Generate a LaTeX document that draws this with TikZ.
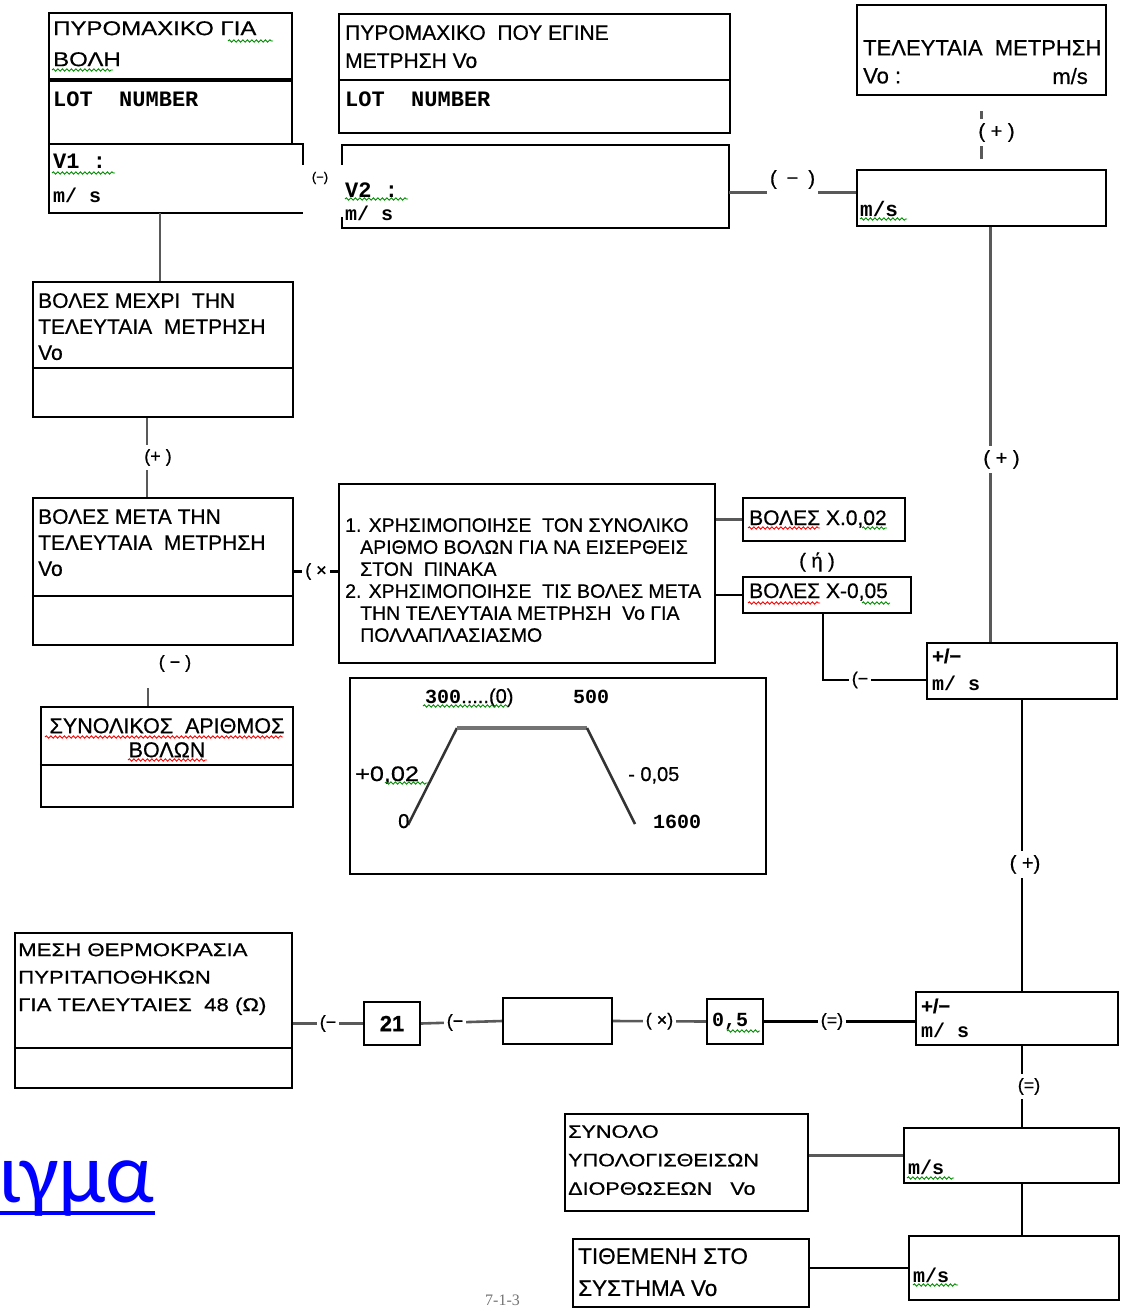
\documentclass[tikz,border=0pt]{standalone}
\usepackage{fontspec}
\setmainfont{Liberation Sans}[FakeBold=0.6]
\newfontfamily\grwide{Liberation Sans}[FakeStretch=1.2, FakeBold=0.6]
\newfontfamily\courfont{Liberation Mono}
\newfontfamily\califont{Carlito}
\newfontfamily\serffont{Liberation Serif}
\usetikzlibrary{fit, decorations.pathmorphing}
\newcommand\setfs[2]{\fontsize{#1}{#2}\selectfont}

\tikzset{
  box/.style={draw, line width=2.2pt, inner sep=0pt},
  openbox/.style={inner sep=0pt},
  gtxt/.style={anchor=north west, inner sep=0pt, align=left, font=\setfs{21}{26}},
  ltxt/.style={anchor=base west, inner sep=0pt, font=\setfs{20}{22}},
  ctxt/.style={anchor=base west, inner sep=0pt, font=\courfont\bfseries\setfs{20}{24}},
  wire/.style={draw=black!65, line width=2.6pt},
  sgn/.style={fill=white, inner xsep=3pt, inner ysep=4pt, font=\setfs{18}{20}},
  squig/.style={draw=green!55!black, line width=0.9pt, decorate,
    decoration={snake, amplitude=1.2pt, segment length=4.5pt}},
  redsquig/.style={squig, draw=red}
}

\begin{document}
\begin{tikzpicture}[x=1pt, y=-1pt]
\useasboundingbox (0,0) rectangle (1124,1311);

% ammunition for firing
\node[box, fit={(49,13) (292,79)}] (ammoA) {};
\node[box, fit={(49,81) (292,144)}] (lotA) {};
\node[openbox, fit={(49,144) (303,213)}] (vA) {};
\draw[line width=2.2pt] ([yshift=-21pt]vA.north east) -- (vA.north east) -- (vA.north west) -- (vA.south west) -- (vA.south east);
\node[gtxt, font=\grwide\setfs{20}{31}] (ammoAt) at (53,21) {ΠΥΡΟΜΑΧΙΚΟ ΓΙΑ\\ΒΟΛΗ};
\node[ctxt, font=\courfont\bfseries\setfs{22}{24}] (lotAt) at (53,107) {LOT~~NUMBER};
\node[ctxt, font=\courfont\bfseries\setfs{22}{24}] (vAt) at (53,168) {V1~:};
\node[ctxt] (vAu) at (53,202) {m/ s};
\node[inner sep=0pt, font=\setfs{13}{15}] (minusAB) at (320,178) {(−)};

% ammunition measured
\node[box, fit={(339,14) (730,133)}] (ammoB) {};
\draw[line width=2.2pt] ([yshift=-67pt]ammoB.north west) -- ([yshift=-67pt]ammoB.north east);
\node[gtxt, font=\setfs{21}{28}] (ammoBt) at (345,25) {ΠΥΡΟΜΑΧΙΚΟ~ ΠΟΥ ΕΓΙΝΕ\\ΜΕΤΡΗΣΗ Vo};
\node[ctxt, font=\courfont\bfseries\setfs{22}{24}] (lotBt) at (345,107) {LOT~~NUMBER};
\node[openbox, fit={(342,145) (729,228)}] (vB) {};
\draw[line width=2.2pt] ([yshift=-20pt]vB.north west) -- (vB.north west) -- (vB.north east) -- (vB.south east) -- (vB.south west) -- ([yshift=11pt]vB.south west);
\node[ctxt, font=\courfont\bfseries\setfs{22}{24}] (vBt) at (345,197) {V2~:};
\node[ctxt] (vBu) at (345,220) {m/ s};

% last measurement
\node[box, fit={(857,5) (1106,95)}] (last) {};
\node[gtxt, font=\setfs{22}{28}] (lastt) at (863,40) {ΤΕΛΕΥΤΑΙΑ ~ΜΕΤΡΗΣΗ\\Vo :};
\node[anchor=base east, inner sep=0pt, font=\setfs{22}{28}] (lastu) at (1088,84) {m/s};
\node[box, fit={(857,170) (1106,226)}] (sumD) {};
\node[ctxt, font=\courfont\bfseries\setfs{21}{24}] (sumDt) at (860,216) {m/s};

% rounds
\node[box, fit={(33,282) (293,417)}] (upto) {};
\draw[line width=2.2pt] ([yshift=-87pt]upto.north west) -- ([yshift=-87pt]upto.north east);
\node[gtxt] (uptot) at (38,293) {ΒΟΛΕΣ ΜΕΧΡΙ ~ΤΗΝ\\ΤΕΛΕΥΤΑΙΑ ~ΜΕΤΡΗΣΗ\\Vo};
\node[box, fit={(33,498) (293,645)}] (after) {};
\draw[line width=2.2pt] ([yshift=-99pt]after.north west) -- ([yshift=-99pt]after.north east);
\node[gtxt] (aftert) at (38,509) {ΒΟΛΕΣ ΜΕΤΑ ΤΗΝ\\ΤΕΛΕΥΤΑΙΑ ~ΜΕΤΡΗΣΗ\\Vo};
\node[box, fit={(41,707) (293,807)}] (total) {};
\draw[line width=2.2pt] ([yshift=-59pt]total.north west) -- ([yshift=-59pt]total.north east);
\node[anchor=north, inner sep=0pt, align=center, font=\setfs{21.5}{24}] (totalt) at (167,718) {ΣΥΝΟΛΙΚΟΣ ~ΑΡΙΘΜΟΣ\\ΒΟΛΩΝ};

% instructions and table
\node[box, fit={(339,484) (715,663)}] (instr) {};
\node[gtxt, font=\setfs{19.5}{22}] (instrt) at (345,518) {1. ΧΡΗΣΙΜΟΠΟΙΗΣΕ ~ΤΟΝ ΣΥΝΟΛΙΚΟ\\\hspace*{15pt}ΑΡΙΘΜΟ ΒΟΛΩΝ ΓΙΑ ΝΑ ΕΙΣΕΡΘΕΙΣ\\\hspace*{15pt}ΣΤΟΝ ~ΠΙΝΑΚΑ\\2. ΧΡΗΣΙΜΟΠΟΙΗΣΕ ~ΤΙΣ ΒΟΛΕΣ ΜΕΤΑ\\\hspace*{15pt}ΤΗΝ ΤΕΛΕΥΤΑΙΑ ΜΕΤΡΗΣΗ ~Vo ΓΙΑ\\\hspace*{15pt}ΠΟΛΛΑΠΛΑΣΙΑΣΜΟ};
\node[box, fit={(743,498) (905,541)}] (bX02) {};
\node[ltxt, font=\setfs{21}{24}] (bX02t) at (749,525) {ΒΟΛΕΣ Χ.0,02};
\node[box, fit={(743,577) (911,613)}] (bX05) {};
\node[ltxt, font=\setfs{21}{24}] (bX05t) at (749,598) {ΒΟΛΕΣ Χ-0,05};
\node[inner sep=0pt, font=\setfs{20}{22}] (orlbl) at (817,562) {( ή )};
\node[box, fit={(927,643) (1117,699)}] (pm1) {};
\node[ltxt, font=\bfseries\setfs{20}{22}] (pm1t) at (932,663) {+/−};
\node[ctxt] (pm1u) at (932,690) {m/ s};

% chart
\node[box, fit={(350,678) (766,874)}] (chart) {};
\draw[line width=2.5pt, black!80] (408,825) -- (457,728);
\draw[line width=4.5pt, black!55] (457,728) -- (587,728);
\draw[line width=2.5pt, black!80] (587,728) -- (635,824);
\node[ltxt] (c300) at (425,703) {{\courfont\bfseries 300}.....(0)};
\node[ctxt] (c500) at (573,703) {500};
\node[ltxt, font=\grwide\setfs{21}{22}] (cup) at (355,781) {+0,02};
\node[ltxt] (cdown) at (628,781) {- 0,05};
\node[ltxt] (czero) at (398,828) {0};
\node[ctxt] (c1600) at (653,828) {1600};

% temperature chain
\node[box, fit={(15,933) (292,1088)}] (temp) {};
\draw[line width=2.2pt] ([yshift=-116pt]temp.north west) -- ([yshift=-116pt]temp.north east);
\node[gtxt, font=\grwide\setfs{18.5}{27.5}] (tempt) at (18,943) {ΜΕΣΗ ΘΕΡΜΟΚΡΑΣΙΑ\\ΠΥΡΙΤΑΠΟΘΗΚΩΝ\\ΓΙΑ ΤΕΛΕΥΤΑΙΕΣ ~48 (Ω)};
\node[box, fit={(364,1002) (420,1045)}] (b21) {};
\node[inner sep=0pt, font=\bfseries\setfs{22}{24}] (b21t) at (b21.center) {21};
\node[box, fit={(503,998) (612,1044)}] (bN) {};
\node[box, fit={(707,999) (763,1044)}] (bO) {};
\node[ctxt] (bOt) at (712,1026) {0,5};
\node[box, fit={(916,992) (1118,1045)}] (pm2) {};
\node[ltxt, font=\bfseries\setfs{20}{22}] (pm2t) at (921,1013) {+/−};
\node[ctxt] (pm2u) at (921,1037) {m/ s};

% totals
\node[box, fit={(565,1114) (808,1211)}] (corr) {};
\node[gtxt, font=\grwide\setfs{18}{28.5}] (corrt) at (568,1125) {ΣΥΝΟΛΟ\\ΥΠΟΛΟΓΙΣΘΕΙΣΩΝ\\ΔΙΟΡΘΩΣΕΩΝ ~~Vo};
\node[box, fit={(904,1128) (1119,1183)}] (sumQ) {};
\node[ctxt] (sumQt) at (908,1174) {m/s};
\node[box, fit={(573,1239) (809,1307)}] (set) {};
\node[gtxt, font=\setfs{22.5}{32}] (sett) at (578,1248) {ΤΙΘΕΜΕΝΗ ΣΤΟ\\ΣΥΣΤΗΜΑ Vo};
\node[box, fit={(909,1236) (1119,1300)}] (sumS) {};
\node[ctxt] (sumSt) at (913,1282) {m/s};

% connectors
\draw[wire] ([xshift=-3pt]upto.north) -- ([xshift=-3pt]upto.north |- vA.south);
\draw[wire] ([xshift=-16pt]upto.south) -- node[sgn, xshift=11pt] {(+ )} ([xshift=-16pt]upto.south |- after.north);
\draw[wire, shorten <=42pt] ([xshift=-19pt]total.north |- after.south) -- node[inner sep=0pt, pos=0.29, xshift=27pt, font=\setfs{18}{20}] {( − )} ([xshift=-19pt]total.north);
\draw[wire, black] (after.east) -- node[sgn, pos=0.5] {( ×} (after.east -| instr.west);
\draw[wire] (instr.east |- bX02.west) -- (bX02.west);
\draw[wire, black] (instr.east |- bX05.west) -- (bX05.west);
\draw[wire, black] ([xshift=-4pt]bX05.south) |- node[sgn, pos=0.68] {(−} ([yshift=-9pt]pm1.west);
\draw[wire] ([yshift=-6pt]vB.east) -- node[sgn, inner ysep=10pt, yshift=13pt, font=\setfs{20}{22}] {(\hspace{10pt}−\hspace{10pt})} ([yshift=-6pt]vB.east -| sumD.west);
\draw[wire, shorten <=15pt, shorten >=10pt] (last.south) -- node[sgn, xshift=15pt, font=\setfs{20}{22}] {( + )} (sumD.north);
\draw[wire] ([xshift=9pt]sumD.south) -- node[sgn, pos=0.56, xshift=11pt, font=\setfs{20}{22}] {( + )} ([xshift=9pt]sumD.south |- pm1.north);
\draw[wire, black] (pm1.south) -- node[sgn, pos=0.565, xshift=3pt, font=\setfs{20}{22}] {( +)} (pm1.south |- pm2.north);
\draw[wire] (temp.east |- b21.west) -- node[sgn] {(−} (b21.west);
\draw[wire] (b21.east) -- node[sgn, pos=0.42] {(−} (bN.west);
\draw[wire] (bN.east) -- node[sgn] {( ×)} (bO.west);
\draw[wire, black] (bO.east) -- node[sgn, pos=0.45] {(=)} (bO.east -| pm2.west);
\draw[wire, black] (pm1.south |- pm2.south) -- node[sgn, xshift=7pt] {(=)} (pm1.south |- sumQ.north);
\draw[wire] (corr.east |- sumQ.west) -- (sumQ.west);
\draw[wire, black] (pm1.south |- sumQ.south) -- (pm1.south |- sumS.north);
\draw[wire, black] (set.east |- sumS.west) -- (sumS.west);

% spelling marks
\foreach \xa/\xb/\yy in {228/273/41, 52/113/70, 52/115/173, 345/408/199, 860/907/219,
    862/887/528, 862/890/603, 423/508/706, 385/428/783, 727/760/1031, 907/954/1178, 913/958/1285}
  \draw[squig] (\xa,\yy) -- (\xb,\yy);
\foreach \xa/\xb/\yy in {748/820/528, 748/820/603, 45/283/737, 128/207/760}
  \draw[redsquig] (\xa,\yy) -- (\xb,\yy);

% link text and page number
\node[anchor=base west, inner sep=0pt, text=blue, font=\califont\setfs{86}{90}] (para) at (-2,1202) {ιγμα};
\draw[blue, line width=4.5pt] ([yshift=-11pt]para.base west) -- ([yshift=-11pt]para.base east);
\node[anchor=north west, inner sep=0pt, text=black!55, font=\serffont\setfs{16}{18}] (pgno) at (485,1295) {7-1-3};
\end{tikzpicture}
\end{document}
